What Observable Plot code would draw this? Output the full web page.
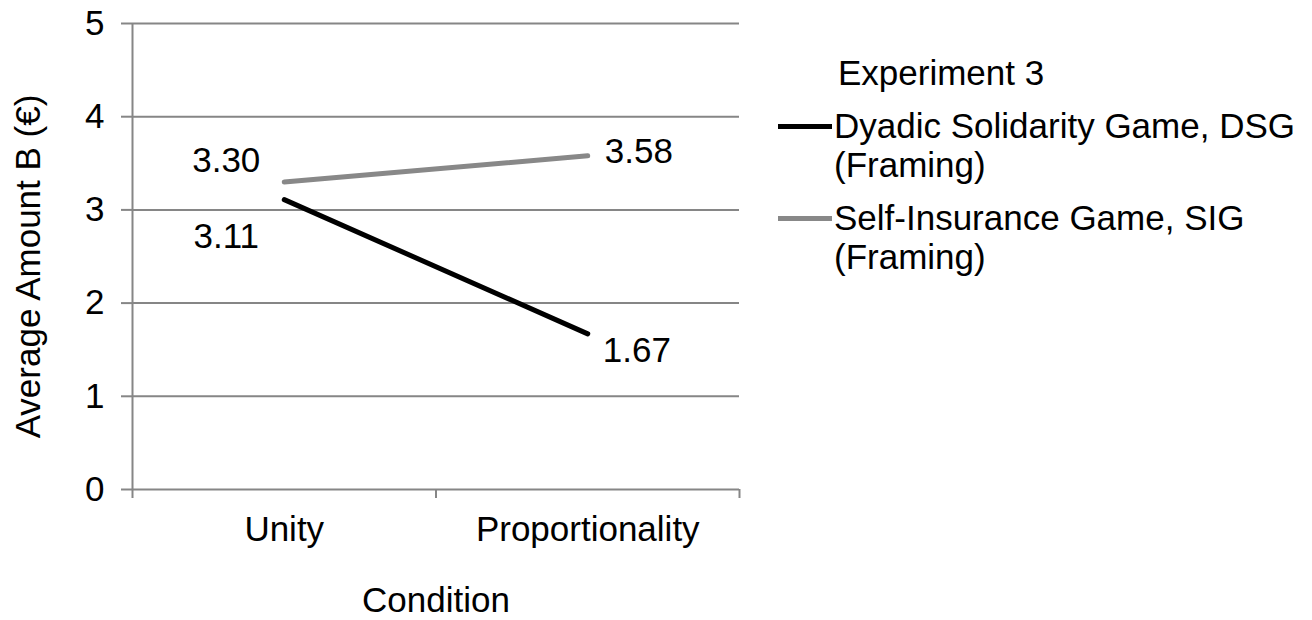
<!DOCTYPE html>
<html>
<head>
<meta charset="utf-8">
<script src="https://cdn.jsdelivr.net/npm/d3@7"></script>
<script src="https://cdn.jsdelivr.net/npm/@observablehq/plot@0.6"></script>
<style>
  html, body { margin: 0; padding: 0; background: #fff; }
  #wrap { position: relative; width: 1312px; height: 620px; font-family: "Liberation Sans", Arial, sans-serif; }
  #legend { position: absolute; left: 778px; top: 53px; font-size: 35px; color: #000; line-height: 39px; }
  .row { display: flex; align-items: flex-start; }
  .sw { width: 54px; height: 5px; margin-top: 18px; flex: none; }
  .lab { margin-left: 2px; }
</style>
</head>
<body>
<div id="wrap"></div>
<script>
const categories = ["Unity", "Proportionality"];
const seriesNames = ["Dyadic Solidarity Game, DSG (Framing)", "Self-Insurance Game, SIG (Framing)"];
const dsgValues = [3.11, 1.67];
const sigValues = [3.30, 3.58];
const yTicks = [0, 1, 2, 3, 4, 5];
const seriesColors = ["#000000", "#888888"];
const legendTitle = "Experiment 3";

const data = [];
categories.forEach((c, i) => {
  data.push({series: seriesNames[0], cat: c, pos: i + 0.5, value: dsgValues[i]});
  data.push({series: seriesNames[1], cat: c, pos: i + 0.5, value: sigValues[i]});
});
const grey = "#868686";
const isDSG = d => d.series === seriesNames[0];
const isSIG = d => d.series === seriesNames[1];
const FS = 35;

const chart = Plot.plot({
  width: 1312,
  height: 620,
  marginLeft: 132,
  marginRight: 573,
  marginTop: 23,
  marginBottom: 131,
  style: {fontFamily: '"Liberation Sans", Arial, sans-serif', fontSize: FS + "px", color: "#000", background: "#fff", overflow: "visible"},
  x: {domain: [0, categories.length]},
  y: {domain: [0, 5]},
  color: {domain: seriesNames, range: seriesColors},
  marks: [
    Plot.gridY(yTicks, {stroke: grey, strokeOpacity: 1, strokeWidth: 2}),
    Plot.ruleX([0], {stroke: grey, strokeWidth: 2}),
    Plot.axisY(yTicks, {tickSize: 11, tickPadding: 17, stroke: grey, strokeWidth: 2, fill: "#000", label: null, fontSize: FS, tickFormat: d3.format("d")}),
    Plot.axisX(d3.range(0, categories.length + 1), {tickSize: 9, stroke: grey, strokeWidth: 2, tickFormat: () => "", label: null}),
    Plot.axisX(categories.map((c, i) => i + 0.5), {tickSize: 0, tickPadding: 27, tickFormat: d => categories[Math.floor(d)], fill: "#000", label: null, fontSize: FS}),
    Plot.line(data, {x: "pos", y: "value", z: "series", stroke: "series", strokeWidth: 5}),
    Plot.text(data.filter(d => d.cat === categories[0] && isSIG(d)), {x: "pos", y: "value", text: d => d.value.toFixed(2), dx: -58, dy: -21, fontSize: FS}),
    Plot.text(data.filter(d => d.cat === categories[0] && isDSG(d)), {x: "pos", y: "value", text: d => d.value.toFixed(2), dx: -58, dy: 37, fontSize: FS}),
    Plot.text(data.filter(d => d.cat === categories[1] && isSIG(d)), {x: "pos", y: "value", text: d => d.value.toFixed(2), dx: 17, dy: -4, textAnchor: "start", fontSize: FS}),
    Plot.text(data.filter(d => d.cat === categories[1] && isDSG(d)), {x: "pos", y: "value", text: d => d.value.toFixed(2), dx: 15, dy: 17, textAnchor: "start", fontSize: FS}),
    Plot.text(["Condition"], {frameAnchor: "bottom", dy: 122, fontSize: FS}),
    Plot.text(["Average Amount B (€)"], {frameAnchor: "left", textAnchor: "middle", rotate: -90, dx: -104, dy: 10, fontSize: FS})
  ]
});

const wrap = document.getElementById("wrap");
wrap.appendChild(chart);

const legend = document.createElement("div");
legend.id = "legend";
const title = document.createElement("div");
title.textContent = legendTitle;
title.style.marginLeft = "60px";
title.style.marginBottom = "14px";
legend.appendChild(title);
seriesNames.forEach((name, i) => {
  const row = document.createElement("div");
  row.className = "row";
  row.style.marginBottom = "14px";
  const sw = document.createElement("div");
  sw.className = "sw";
  sw.style.background = seriesColors[i];
  const lab = document.createElement("div");
  lab.className = "lab";
  const parts = name.split(" (");
  const l1 = document.createElement("div"); l1.textContent = parts[0];
  const l2 = document.createElement("div"); l2.textContent = "(" + parts[1];
  lab.appendChild(l1); lab.appendChild(l2);
  row.appendChild(sw); row.appendChild(lab);
  legend.appendChild(row);
});
wrap.appendChild(legend);
</script>
</body>
</html>
